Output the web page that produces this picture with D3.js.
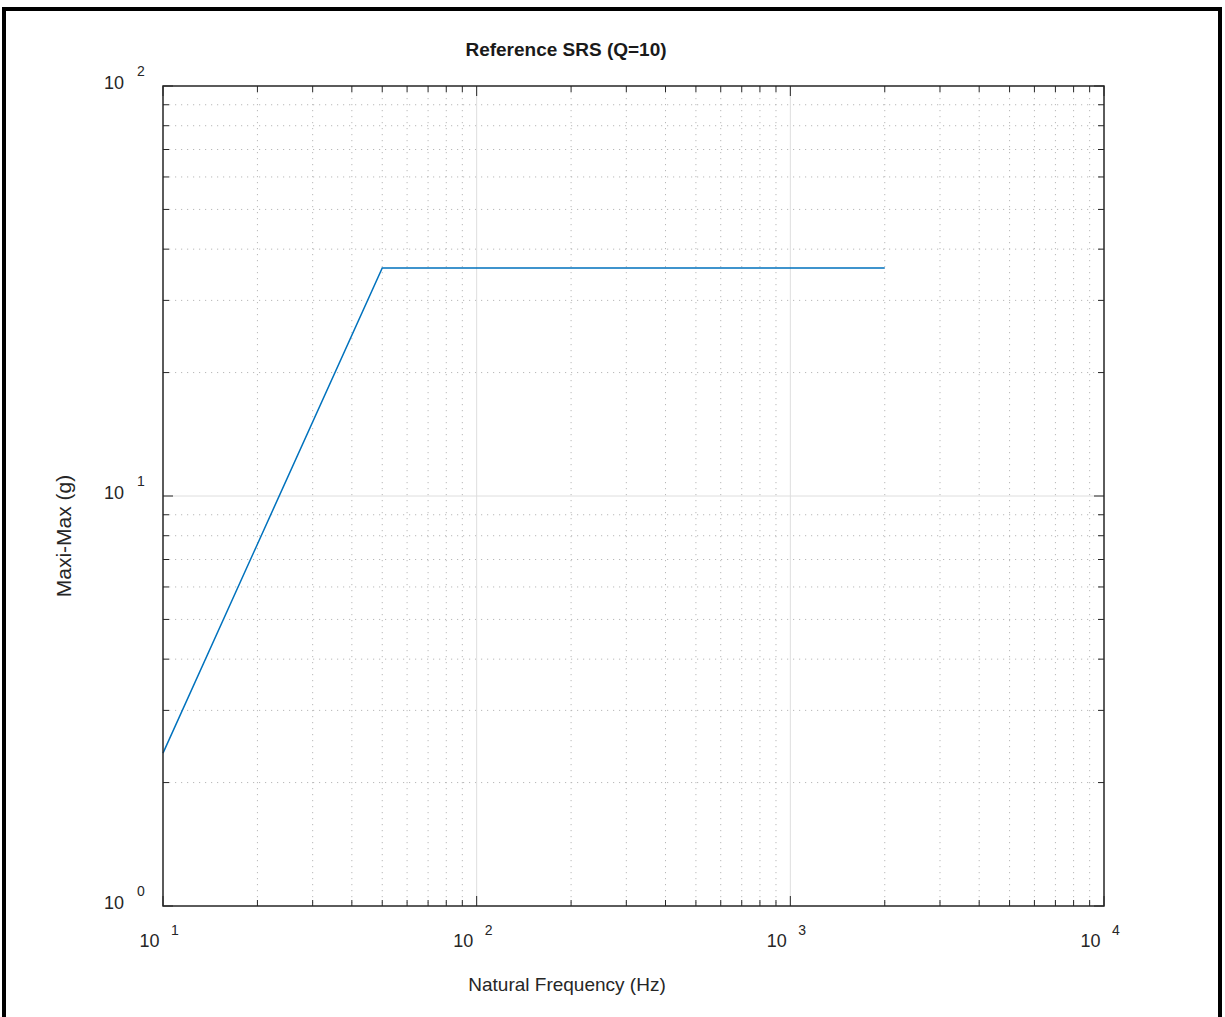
<!DOCTYPE html>
<html>
<head>
<meta charset="utf-8">
<script src="https://cdn.jsdelivr.net/npm/d3@7/dist/d3.min.js"></script>
<style>
  html, body { margin: 0; padding: 0; background: #fff; }
  svg { display: block; font-family: "Liberation Sans", Arial, Helvetica, sans-serif; }
</style>
</head>
<body>
<svg id="chart" width="1225" height="1017"></svg>
<script>
// Reference shock response spectrum breakpoints (Q = 10)
const frequencyHz = [10, 50, 2000];
const maxiMaxG = [2.36, 36, 36];

// Axis decades, written as exponents of ten
const xTickExponents = [1, 2, 3, 4];
const yTickExponents = [0, 1, 2];

const chartTitle = "Reference SRS (Q=10)";
const xAxisLabel = "Natural Frequency (Hz)";
const yAxisLabel = "Maxi-Max (g)";

const svg = d3.select("#chart");
const W = 1225, H = 1017;
const plot = { left: 163, top: 86, right: 1104, bottom: 906 };

const x = d3.scaleLog().domain([10, 10000]).range([plot.left, plot.right]);
const y = d3.scaleLog().domain([1, 100]).range([plot.bottom, plot.top]);

const axisColor = "#262626";

// Outer frame
svg.append("rect")
  .attr("x", 4).attr("y", 9)
  .attr("width", 1216).attr("height", H + 20)
  .attr("fill", "none").attr("stroke", "#000").attr("stroke-width", 4);

// Major and minor tick values for each decade
function decadeTicks(lo, hi) {
  const major = [], minor = [];
  for (let e = lo; e <= hi; e++) {
    major.push(Math.pow(10, e));
    if (e < hi) for (let m = 2; m <= 9; m++) minor.push(m * Math.pow(10, e));
  }
  return { major, minor };
}
const xt = decadeTicks(xTickExponents[0], xTickExponents[xTickExponents.length - 1]);
const yt = decadeTicks(yTickExponents[0], yTickExponents[yTickExponents.length - 1]);

const grid = svg.append("g");
// Minor grid (dotted)
grid.selectAll(".xminor").data(xt.minor).join("line")
  .attr("x1", d => x(d)).attr("x2", d => x(d))
  .attr("y1", plot.top).attr("y2", plot.bottom)
  .attr("stroke", "#b8b8b8").attr("stroke-width", 1).attr("stroke-dasharray", "1.2,4.8");
grid.selectAll(".yminor").data(yt.minor).join("line")
  .attr("y1", d => y(d)).attr("y2", d => y(d))
  .attr("x1", plot.left).attr("x2", plot.right)
  .attr("stroke", "#b8b8b8").attr("stroke-width", 1).attr("stroke-dasharray", "1.2,4.8");
// Major grid (solid)
grid.selectAll(".xmajor").data(xt.major.slice(1, -1)).join("line")
  .attr("x1", d => x(d)).attr("x2", d => x(d))
  .attr("y1", plot.top).attr("y2", plot.bottom)
  .attr("stroke", "#dedede").attr("stroke-width", 1);
grid.selectAll(".ymajor").data(yt.major.slice(1, -1)).join("line")
  .attr("y1", d => y(d)).attr("y2", d => y(d))
  .attr("x1", plot.left).attr("x2", plot.right)
  .attr("stroke", "#dedede").attr("stroke-width", 1);

// Data line
const line = d3.line().x((d, i) => x(frequencyHz[i])).y(d => y(d));
svg.append("path")
  .datum(maxiMaxG)
  .attr("d", line)
  .attr("fill", "none")
  .attr("stroke", "#0072BD")
  .attr("stroke-width", 1.5);

// Inward ticks on all four sides
const ticks = svg.append("g").attr("stroke", axisColor).attr("stroke-width", 1);
const majorLen = 10, minorLen = 6;
const xAll = xt.major.map(v => [v, majorLen]).concat(xt.minor.map(v => [v, minorLen]));
const yAll = yt.major.map(v => [v, majorLen]).concat(yt.minor.map(v => [v, minorLen]));
xAll.forEach(([v, len]) => {
  ticks.append("line").attr("x1", x(v)).attr("x2", x(v)).attr("y1", plot.bottom).attr("y2", plot.bottom - len);
  ticks.append("line").attr("x1", x(v)).attr("x2", x(v)).attr("y1", plot.top).attr("y2", plot.top + len);
});
yAll.forEach(([v, len]) => {
  ticks.append("line").attr("y1", y(v)).attr("y2", y(v)).attr("x1", plot.left).attr("x2", plot.left + len);
  ticks.append("line").attr("y1", y(v)).attr("y2", y(v)).attr("x1", plot.right).attr("x2", plot.right - len);
});

// Axes box
svg.append("rect")
  .attr("x", plot.left).attr("y", plot.top)
  .attr("width", plot.right - plot.left).attr("height", plot.bottom - plot.top)
  .attr("fill", "none").attr("stroke", axisColor).attr("stroke-width", 1.5);

// Tick labels: "10" with a raised exponent
const labels = svg.append("g").attr("fill", axisColor);
xTickExponents.forEach(e => {
  const px = x(Math.pow(10, e));
  labels.append("text").attr("x", px - 3.5).attr("y", plot.bottom + 41)
    .attr("text-anchor", "end").attr("font-size", 18).text("10");
  labels.append("text").attr("x", px + 8).attr("y", plot.bottom + 29)
    .attr("text-anchor", "start").attr("font-size", 14).text(e);
});
yTickExponents.forEach(e => {
  const py = y(Math.pow(10, e));
  labels.append("text").attr("x", 124).attr("y", py + 2.5)
    .attr("text-anchor", "end").attr("font-size", 18).text("10");
  labels.append("text").attr("x", 137).attr("y", py - 10.5)
    .attr("text-anchor", "start").attr("font-size", 14).text(e);
});

// Title and axis labels
svg.append("text")
  .attr("x", 566).attr("y", 56)
  .attr("text-anchor", "middle").attr("font-size", 19).attr("font-weight", "bold")
  .attr("fill", "#1a1a1a").text(chartTitle);
svg.append("text")
  .attr("x", 567).attr("y", 991)
  .attr("text-anchor", "middle").attr("font-size", 19)
  .attr("fill", axisColor).text(xAxisLabel);
svg.append("text")
  .attr("transform", "translate(71,536) rotate(-90)")
  .attr("text-anchor", "middle").attr("font-size", 21)
  .attr("fill", axisColor).text(yAxisLabel);
</script>
</body>
</html>
